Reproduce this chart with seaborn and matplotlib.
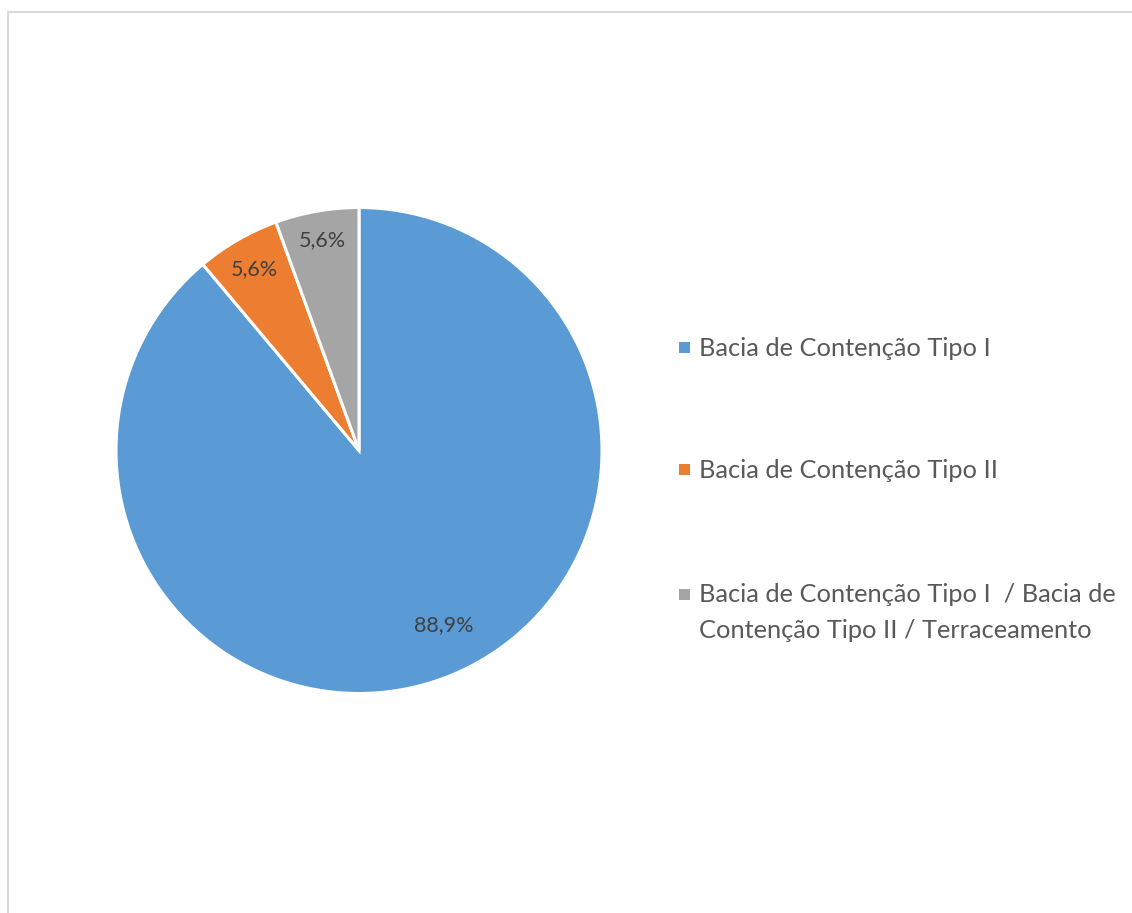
import matplotlib
matplotlib.use("Agg")
import matplotlib.pyplot as plt
import seaborn as sns
from matplotlib.lines import Line2D
from matplotlib.patches import Rectangle
import numpy as np

categories = [
    "Bacia de Contenção Tipo I",
    "Bacia de Contenção Tipo II",
    "Bacia de Contenção Tipo I  / Bacia de\nContenção Tipo II / Terraceamento",
]
values = [16, 1, 1]
pct_labels = ["88,9%", "5,6%", "5,6%"]
colors = ["#5B9BD5", "#ED7D31", "#A5A5A5"]

sns.set_theme(style="white")
plt.rcParams['font.family'] = ['Lato', 'DejaVu Sans']

W, H = 1132, 913
fig = plt.figure(figsize=(W / 100, H / 100), dpi=100)
fig.patch.set_facecolor("white")

cx, cy, r = 359, 450.5, 243
ax = fig.add_axes([(cx - r) / W, (H - cy - r) / H, 2 * r / W, 2 * r / H])
palette = sns.color_palette(colors)
wedges, _ = ax.pie(values, colors=palette, startangle=90, counterclock=False,
                   wedgeprops=dict(edgecolor="white", linewidth=2.2))
ax.set_xlim(-1, 1)
ax.set_ylim(-1, 1)
ax.set_aspect("equal")
ax.axis("off")

# percentage labels placed from wedge angles
label_r = [0.80, 0.86, 0.88]
label_shift = [6, 0, 0]  # degrees
for w, lab, lr, sh in zip(wedges, pct_labels, label_r, label_shift):
    ang = np.deg2rad((w.theta1 + w.theta2) / 2 + sh)
    ax.text(lr * np.cos(ang), lr * np.sin(ang), lab, ha="center", va="center",
            fontsize=15.5, color="#404040")

# legend (manual)
ys = [348, 470, 594]
for y, cat, col in zip(ys, categories, palette):
    fig.add_artist(Rectangle((679 / W, (H - y - 5.5) / H), 11 / W, 11 / H,
                             transform=fig.transFigure, facecolor=col, edgecolor="none"))
    lines = cat.split("\n")
    for i, line in enumerate(lines):
        fig.text(699 / W, (H - y - 36 * i) / H, line, ha="left", va="center",
                 fontsize=18.3, color="#595959")

# outer frame
fig.add_artist(Line2D([8 / W, 1.0], [(H - 12) / H] * 2, color="#D9D9D9", lw=1.5,
                      transform=fig.transFigure))
fig.add_artist(Line2D([8 / W] * 2, [(H - 12) / H, 0.0], color="#D9D9D9", lw=1.5,
                      transform=fig.transFigure))

fig.savefig("out.png", dpi=100)
